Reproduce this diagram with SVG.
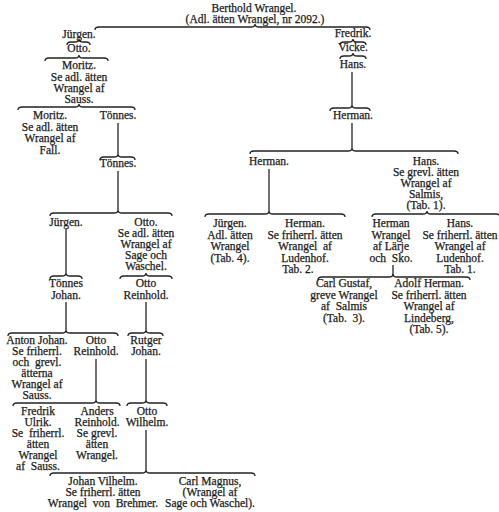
<svg xmlns="http://www.w3.org/2000/svg" width="499" height="512" viewBox="0 0 499 512">
<style>
.t{font-family:"Liberation Serif","Times New Roman",serif;font-size:11.5px;text-anchor:middle;fill:#1a1a1a;stroke:#1a1a1a;stroke-width:0.25}
.c{fill:none;stroke:#222;stroke-width:1.3}
</style>
<rect width="499" height="512" fill="#fff"/>
<g id="connectors" class="c">
<path d="M95 30 Q95 27 99 27 H251 Q255 27 255 24 Q255 27 259 27 H366 Q370 27 370 30"/>
<path d="M67 45 Q67 42 71 42 H75 Q79 42 79 39 Q79 42 83 42 H86 Q90 42 90 45"/>
<path d="M45 61 Q45 58 49 58 H75 Q79 58 79 55 Q79 58 83 58 H104 Q108 58 108 61"/>
<path d="M18 110 Q18 107 22 107 H75 Q79 107 79 104 Q79 107 83 107 H131 Q135 107 135 110"/>
<path d="M118 123 V154"/>
<path d="M100 160 Q100 157 104 157 H114 Q118 157 118 154 Q118 157 122 157 H131 Q135 157 135 160"/>
<path d="M118 171 V210"/>
<path d="M50 216 Q50 213 54 213 H114 Q118 213 118 210 Q118 213 122 213 H168 Q172 213 172 216"/>
<path d="M66 229 V273"/>
<path d="M50 279 Q50 276 54 276 H62 Q66 276 66 273 Q66 276 70 276 H78 Q82 276 82 279"/>
<path d="M120 279 Q120 276 124 276 H142 Q146 276 146 273 Q146 276 150 276 H168 Q172 276 172 279"/>
<path d="M66 302 V330"/>
<path d="M8 336 Q8 333 12 333 H62 Q66 333 66 330 Q66 333 70 333 H114 Q118 333 118 336"/>
<path d="M146 302 V330"/>
<path d="M128 336 Q128 333 132 333 H142 Q146 333 146 330 Q146 333 150 333 H159 Q163 333 163 336"/>
<path d="M96 359 V400"/>
<path d="M13 406 Q13 403 17 403 H92 Q96 403 96 400 Q96 403 100 403 H116 Q120 403 120 406"/>
<path d="M146 359 V400"/>
<path d="M127 406 Q127 403 131 403 H142 Q146 403 146 400 Q146 403 150 403 H163 Q167 403 167 406"/>
<path d="M146 430 V470"/>
<path d="M50 476 Q50 473 54 473 H142 Q146 473 146 470 Q146 473 150 473 H251 Q255 473 255 476"/>
<path d="M340 45 Q340 42 344 42 H349 Q353 42 353 39 Q353 42 357 42 H362 Q366 42 366 45"/>
<path d="M340 59 Q340 56 344 56 H349 Q353 56 353 53 Q353 56 357 56 H362 Q366 56 366 59"/>
<path d="M352 72 V105"/>
<path d="M330 111 Q330 108 334 108 H348 Q352 108 352 105 Q352 108 356 108 H366 Q370 108 370 111"/>
<path d="M352 123 V148"/>
<path d="M250 154 Q250 151 254 151 H348 Q352 151 352 148 Q352 151 356 151 H454 Q458 151 458 154"/>
<path d="M269 169 V211"/>
<path d="M205 217 Q205 214 209 214 H265 Q269 214 269 211 Q269 214 273 214 H341 Q345 214 345 217"/>
<path d="M372 217 Q372 214 376 214 H423 Q427 214 427 211 Q427 214 431 214 H496 Q500 214 500 217"/>
<path d="M393 265 V275"/>
<path d="M318 280 Q318 277 322 277 H389 Q393 277 393 274 Q393 277 397 277 H466 Q470 277 470 280"/>
</g>
<g id="n-berthold" class="t"><text x="254" y="12">Berthold Wrangel.</text><text x="255" y="23">(Adl. ätten Wrangel, nr 2092.)</text></g>
<g id="n-jurgen1" class="t"><text x="79" y="38">Jürgen.</text></g>
<g id="n-otto1" class="t"><text x="79" y="52">Otto.</text></g>
<g id="n-moritz1" class="t"><text x="79" y="69">Moritz.</text><text x="79" y="80.5">Se adl. ätten</text><text x="79" y="92">Wrangel af</text><text x="79" y="103">Sauss.</text></g>
<g id="n-moritz2" class="t"><text x="50" y="119">Moritz.</text><text x="50" y="130.5">Se adl. ätten</text><text x="50" y="142">Wrangel af</text><text x="50" y="153.5">Fall.</text></g>
<g id="n-tonnes1" class="t"><text x="118" y="119">Tönnes.</text></g>
<g id="n-tonnes2" class="t"><text x="118" y="167">Tönnes.</text></g>
<g id="n-jurgen2" class="t"><text x="66" y="226">Jürgen.</text></g>
<g id="n-otto2" class="t"><text x="146" y="226">Otto.</text><text x="146" y="237">Se adl. ätten</text><text x="146" y="248">Wrangel af</text><text x="146" y="259">Sage och</text><text x="146" y="270">Waschel.</text></g>
<g id="n-tonnesjohan" class="t"><text x="66" y="287">Tönnes</text><text x="66" y="298.5">Johan.</text></g>
<g id="n-ottoreinhold1" class="t"><text x="146" y="287">Otto</text><text x="146" y="298.5">Reinhold.</text></g>
<g id="n-antonjohan" class="t"><text x="37" y="344">Anton Johan.</text><text x="37" y="355">Se friherrl.</text><text x="37" y="366" xml:space="preserve">och  grevl.</text><text x="37" y="377">ätterna</text><text x="37" y="388">Wrangel af</text><text x="37" y="399">Sauss.</text></g>
<g id="n-ottoreinhold2" class="t"><text x="96" y="344">Otto</text><text x="96" y="355">Reinhold.</text></g>
<g id="n-rutgerjohan" class="t"><text x="146" y="344">Rutger</text><text x="146" y="355">Johan.</text></g>
<g id="n-fredrikulrik" class="t"><text x="38" y="415">Fredrik</text><text x="38" y="426">Ulrik.</text><text x="38" y="437" xml:space="preserve">Se  friherrl.</text><text x="38" y="448">ätten</text><text x="38" y="459">Wrangel</text><text x="38" y="470" xml:space="preserve">af  Sauss.</text></g>
<g id="n-anders" class="t"><text x="97" y="415">Anders</text><text x="97" y="426">Reinhold.</text><text x="97" y="437">Se grevl.</text><text x="97" y="448">ätten</text><text x="97" y="459">Wrangel.</text></g>
<g id="n-ottowilhelm" class="t"><text x="147" y="415">Otto</text><text x="147" y="426">Wilhelm.</text></g>
<g id="n-johanvilhelm" class="t"><text x="103" y="485">Johan Vilhelm.</text><text x="103" y="496">Se friherrl. ätten</text><text x="103" y="507" xml:space="preserve">Wrangel  von  Brehmer.</text></g>
<g id="n-carlmagnus" class="t"><text x="210" y="485">Carl Magnus,</text><text x="210" y="496">(Wrangel af</text><text x="210" y="507">Sage och Waschel).</text></g>
<g id="n-fredrik" class="t"><text x="353" y="37">Fredrik.</text></g>
<g id="n-vicke" class="t"><text x="353" y="51">Vicke.</text></g>
<g id="n-hans1" class="t"><text x="353" y="68">Hans.</text></g>
<g id="n-herman1" class="t"><text x="353" y="119">Herman.</text></g>
<g id="n-herman2" class="t"><text x="269" y="165">Herman.</text></g>
<g id="n-hans2" class="t"><text x="426" y="165">Hans.</text><text x="426" y="176">Se grevl. ätten</text><text x="426" y="187">Wrangel af</text><text x="426" y="198">Salmis,</text><text x="426" y="209">(Tab. 1).</text></g>
<g id="n-jurgen3" class="t"><text x="230" y="227">Jürgen.</text><text x="230" y="238.5">Adl. ätten</text><text x="230" y="250">Wrangel</text><text x="230" y="261.5">(Tab. 4).</text></g>
<g id="n-herman3" class="t"><text x="305" y="227">Herman.</text><text x="305" y="238.5">Se friherrl. ätten</text><text x="305" y="250" xml:space="preserve">Wrangel  af</text><text x="305" y="261.5">Ludenhof.</text><text x="298" y="273">Tab. 2.</text></g>
<g id="n-hermanwrangel" class="t"><text x="391" y="227">Herman</text><text x="391" y="238.5">Wrangel</text><text x="391" y="250">af Lärje</text><text x="391" y="261.5" xml:space="preserve">och  Sko.</text></g>
<g id="n-hans3" class="t"><text x="460" y="227">Hans.</text><text x="460" y="238.5">Se friherrl. ätten</text><text x="460" y="250">Wrangel af</text><text x="460" y="261.5">Ludenhof.</text><text x="460" y="273">Tab. 1.</text></g>
<g id="n-carlgustaf" class="t"><text x="344" y="287">Carl Gustaf,</text><text x="344" y="298.5">greve Wrangel</text><text x="344" y="310" xml:space="preserve">af  Salmis</text><text x="344" y="321.5" xml:space="preserve">(Tab.  3).</text></g>
<g id="n-adolfherman" class="t"><text x="429" y="287">Adolf Herman.</text><text x="429" y="298.5">Se friherrl. ätten</text><text x="429" y="310">Wrangel af</text><text x="429" y="321.5">Lindeberg,</text><text x="429" y="333">(Tab. 5).</text></g>
</svg>
